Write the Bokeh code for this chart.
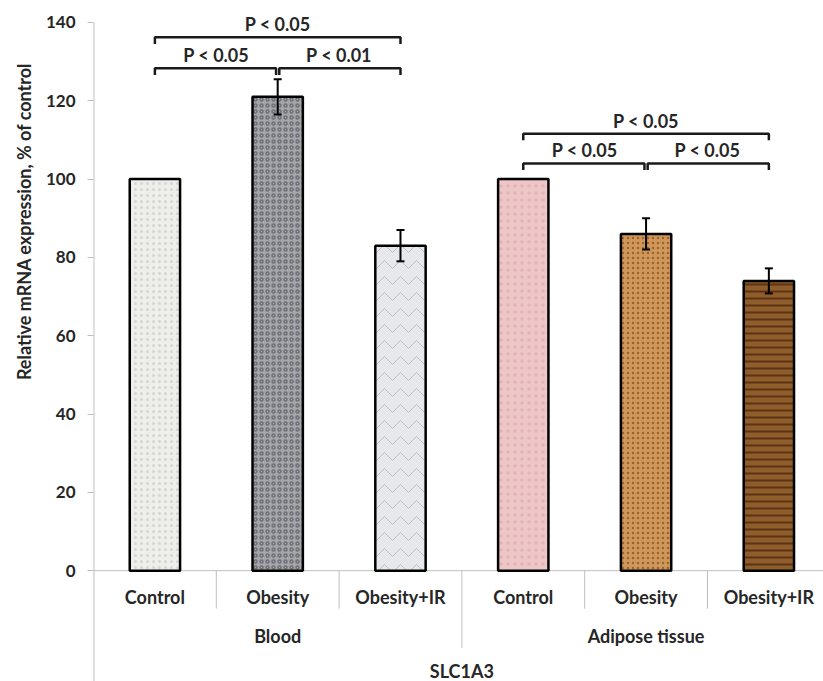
from bokeh.plotting import figure
from bokeh.models import ColumnDataSource, Label, FixedTicker, Range1d, Whisker, TeeHead, Title
from bokeh.embed import file_html
from bokeh.resources import INLINE

# ---------------- data ----------------
gene = "SLC1A3"
groups = ["Blood", "Adipose tissue"]
conditions = ["Control", "Obesity", "Obesity+IR"]
values = [100, 121, 83, 100, 86, 74]
errors = [0, 4.5, 4.0, 0, 4.0, 3.2]
y_ticks = [0, 20, 40, 60, 80, 100, 120, 140]
y_title = "Relative mRNA expression, % of control"
# significance comparisons: (left bar index, right bar index, label)
comparisons = [
    (0, 2, "P < 0.05"),
    (0, 1, "P < 0.05"),
    (1, 2, "P < 0.01"),
    (3, 5, "P < 0.05"),
    (3, 4, "P < 0.05"),
    (4, 5, "P < 0.05"),
]

# ---------------- style ----------------
fills = ["#eeeeea", "#a5a5aa", "#e6e8ec", "#eec6c7", "#cf975a", "#8f5c2b"]
hatch_patterns = ["dot", "ring", "horizontal_wave", "dot", "dot", "horizontal_line"]
hatch_colors = ["#d6d6d1", "#6f6f77", "#bfc1c8", "#e0b4b6", "#9c612f", "#5a3414"]
hatch_scales = [6, 6, 16, 7, 5, 7]
hatch_weights = [1, 1.5, 1, 1, 1.5, 2]
bracket_levels = [136.2, 128.3, 128.3, 111.6, 104.0, 104.0]
FONT = "Lato"
AXIS_GRAY = "#bfbfbf"
TXT = "#262626"

Y_TOP, Y_BOTTOM = 145.6, -28.3
X_END = 5.945

n = len(groups) * len(conditions)
xs = [i + 0.5 for i in range(n)]
cat_labels = [c for g in groups for c in conditions]

p = figure(
    frame_width=730, frame_height=681,
    x_range=Range1d(0, X_END), y_range=Range1d(Y_BOTTOM, Y_TOP),
    output_backend="svg", toolbar_location=None,
    x_axis_location=None, min_border_left=93, min_border_right=0,
    min_border_top=0, min_border_bottom=0,
)
p.outline_line_color = None
p.grid.visible = False
p.background_fill_color = "white"

yax = p.yaxis[0]
yax.ticker = FixedTicker(ticks=y_ticks)
yax.axis_line_color = None
yax.major_tick_line_color = AXIS_GRAY
yax.major_tick_out = 6
yax.major_tick_in = 0
yax.minor_tick_line_color = None
yax.major_label_text_font = FONT
yax.major_label_text_font_style = "bold"
yax.major_label_text_font_size = "17px"
yax.major_label_text_color = TXT
yax.major_label_standoff = 12

# y title (outside the frame, anchored near the top)
p.add_layout(Title(text=y_title, align="right", offset=62, standoff=16,
                   text_font=FONT, text_font_style="bold",
                   text_font_size="18px", text_color=TXT), "left")

# axis lines
p.segment(x0=[0], y0=[Y_BOTTOM], x1=[0], y1=[y_ticks[-1]], line_color=AXIS_GRAY, line_width=2)
p.segment(x0=[0], y0=[0], x1=[X_END], y1=[0], line_color=AXIS_GRAY, line_width=1)

# bars
src = ColumnDataSource(dict(
    x=xs, top=values, fill=fills, hp=hatch_patterns, hc=hatch_colors,
    hs=hatch_scales, hw=hatch_weights,
))
p.vbar(x="x", top="top", bottom=0, width=0.41, source=src,
       fill_color="fill", line_color="black", line_width=2.5,
       hatch_pattern="hp", hatch_color="hc", hatch_scale="hs", hatch_weight="hw")

# error bars
ex = [xs[i] for i in range(n) if errors[i] > 0]
eu = [values[i] + errors[i] for i in range(n) if errors[i] > 0]
el = [values[i] - errors[i] for i in range(n) if errors[i] > 0]
esrc = ColumnDataSource(dict(x=ex, upper=eu, lower=el))
p.add_layout(Whisker(base="x", upper="upper", lower="lower", source=esrc,
                     line_color="black", line_width=2, level="overlay",
                     upper_head=TeeHead(size=8, line_width=2, line_color="black"),
                     lower_head=TeeHead(size=8, line_width=2, line_color="black")))

# significance brackets
drop = 1.7
gap = 0.013
bx, by = [], []
for (a, b, lab), lvl in zip(comparisons, bracket_levels):
    xa = xs[a] + (gap if any(c[1] == a for c in comparisons) else 0)
    xb = xs[b] - (gap if any(c[0] == b for c in comparisons) else 0)
    bx.append([xa, xa, xb, xb])
    by.append([lvl - drop, lvl, lvl, lvl - drop])
    p.add_layout(Label(x=(xs[a] + xs[b]) / 2, y=lvl + 3.3, text=lab,
                       text_align="center", text_baseline="middle",
                       text_font=FONT, text_font_style="bold",
                       text_font_size="18px", text_color=TXT))
p.multi_line(xs=bx, ys=by, line_color="#1a1a1a", line_width=2.5)

# category separators
sx, sy = [], []
for k in range(1, n):
    bottom = -19.7 if k % len(conditions) == 0 else -9.7
    sx.append([k, k])
    sy.append([0, bottom])
p.multi_line(xs=sx, ys=sy, line_color=AXIS_GRAY, line_width=1)

# category labels
for x, lab in zip(xs, cat_labels):
    p.add_layout(Label(x=x, y=-6.8, text=lab, text_align="center",
                       text_baseline="middle", text_font=FONT,
                       text_font_style="bold", text_font_size="18px",
                       text_color=TXT))
for gi, g in enumerate(groups):
    gx = gi * len(conditions) + len(conditions) / 2
    p.add_layout(Label(x=gx, y=-16.6, text=g, text_align="center",
                       text_baseline="middle", text_font=FONT,
                       text_font_style="bold", text_font_size="18px",
                       text_color=TXT))
p.add_layout(Label(x=n / 2, y=-25.7, text=gene, text_align="center",
                   text_baseline="middle", text_font=FONT,
                   text_font_style="bold", text_font_size="18px",
                   text_color=TXT))

open("out.html", "w").write(file_html(p, INLINE))
